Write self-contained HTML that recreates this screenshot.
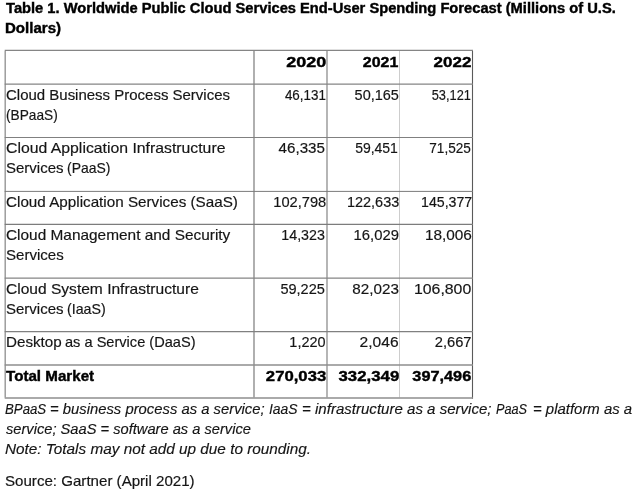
<!DOCTYPE html>
<html lang="en">
<head>
<meta charset="utf-8">
<title>Table 1. Worldwide Public Cloud Services End-User Spending Forecast</title>
<style>
html,body{margin:0;padding:0;background:#fff;}
body{width:640px;height:492px;overflow:hidden;position:relative;font-family:"Liberation Sans",Arial,sans-serif;color:#151515;font-size:15px;}
h1{position:absolute;left:0;top:-2px;margin:0;font-size:14.5px;line-height:20.2px;font-weight:bold;color:#000;white-space:nowrap;-webkit-text-stroke:0.4px #000;}
.grid{position:absolute;left:0;top:0;}
table{display:block;position:absolute;left:0;top:50.4px;width:640px;margin:0;padding:0;border:0;border-spacing:0;}
thead,tbody{display:block;}
tr{display:flex;}
td,th{display:block;box-sizing:border-box;flex:0 0 auto;padding:0px 0 0 0;margin:0;font-weight:inherit;text-align:left;font-size:15px;line-height:20.4px;white-space:nowrap;}
.n{text-align:right;}
.t{display:inline-block;}
tbody td{-webkit-text-stroke:0.18px #151515;}
tr.h th,tr.tot td{font-weight:bold;color:#000;-webkit-text-stroke:0.4px #000;}
.foot{position:absolute;left:0;top:398.5px;margin:0;font-style:italic;font-size:14.25px;line-height:20.2px;white-space:nowrap;-webkit-text-stroke:0.15px #151515;}
.src{position:absolute;left:0;top:470.5px;margin:0;font-size:14.6px;line-height:20px;white-space:nowrap;-webkit-text-stroke:0.18px #151515;}
.bar{position:absolute;left:0;top:486px;width:640px;height:6px;background:#fbfbfb;z-index:-1;}
</style>
</head>
<body>
<div class="bar"></div>
<h1><span class="t" style="margin-left:5.54px;transform-origin:0 0;transform:scaleX(1.0128)">Table 1. Worldwide Public Cloud Services End-User Spending Forecast (Millions of U.S.</span><br><span class="t" style="margin-left:4.69px;transform-origin:0 0;transform:scaleX(1.0384)">Dollars)</span></h1>
<svg class="grid" width="640" height="492" viewBox="0 0 640 492" aria-hidden="true"><line x1="5.2" y1="50.9" x2="5.2" y2="397.40" stroke="#969696" stroke-width="1.4"/><line x1="254.0" y1="50.9" x2="254.0" y2="397.40" stroke="#8e8e8e" stroke-width="1.4"/><line x1="327.0" y1="50.9" x2="327.0" y2="397.40" stroke="#8e8e8e" stroke-width="1.3"/><line x1="399.5" y1="50.9" x2="399.5" y2="397.40" stroke="#cdcdcd" stroke-width="1.0"/><line x1="472.5" y1="50.9" x2="472.5" y2="398.70" stroke="#5a5a5a" stroke-width="1.1"/><line x1="4.7" y1="50.4" x2="473.0" y2="50.4" stroke="#858585" stroke-width="1.1"/><line x1="4.7" y1="84.0" x2="473.0" y2="84.0" stroke="#858585" stroke-width="1.25"/><line x1="4.7" y1="137.5" x2="473.0" y2="137.5" stroke="#808080" stroke-width="1.1"/><line x1="4.7" y1="191.4" x2="473.0" y2="191.4" stroke="#7a7a7a" stroke-width="1.0"/><line x1="4.7" y1="224.35" x2="473.0" y2="224.35" stroke="#7c7c7c" stroke-width="1.05"/><line x1="4.7" y1="278.05" x2="473.0" y2="278.05" stroke="#858585" stroke-width="1.25"/><line x1="4.7" y1="331.6" x2="473.0" y2="331.6" stroke="#808080" stroke-width="1.1"/><line x1="4.7" y1="365.0" x2="473.0" y2="365.0" stroke="#8e8e8e" stroke-width="1.4"/><line x1="4.7" y1="398.0" x2="473.0" y2="398.0" stroke="#8e8e8e" stroke-width="1.4"/></svg>
<table>
<thead>
<tr class="h" style="height:33.60px;padding-top:1.4px;box-sizing:border-box"><th style="width:254.00px"></th><th class="n" style="width:73.00px"><span class="t" style="margin-right:0.76px;transform-origin:100% 0;transform:scaleX(1.2006)">2020</span></th><th class="n" style="width:72.50px"><span class="t" style="margin-right:0.76px;transform-origin:100% 0;transform:scaleX(1.0638)">2021</span></th><th class="n" style="width:73.00px"><span class="t" style="margin-right:0.82px;transform-origin:100% 0;transform:scaleX(1.1318)">2022</span></th></tr>
</thead>
<tbody>
<tr class="two" style="height:53.50px;padding-top:0.8px;box-sizing:border-box"><td style="width:254.00px"><span class="t" style="margin-left:5.54px;transform-origin:0 0;transform:scaleX(0.9988)">Cloud Business Process Services</span><br><span class="t" style="margin-left:6.05px;transform-origin:0 0;transform:scaleX(0.9119)">(BPaaS)</span></td><td class="n" style="width:73.00px"><span class="t" style="margin-right:1.25px;transform-origin:100% 0;transform:scaleX(0.8928)">46,131</span></td><td class="n" style="width:72.50px"><span class="t" style="margin-right:0.69px;transform-origin:100% 0;transform:scaleX(0.9653)">50,165</span></td><td class="n" style="width:73.00px"><span class="t" style="margin-right:1.48px;transform-origin:100% 0;transform:scaleX(0.8531)">53,121</span></td></tr>
<tr class="two" style="height:53.90px;padding-top:0.1px;box-sizing:border-box"><td style="width:254.00px"><span class="t" style="margin-left:5.50px;transform-origin:0 0;transform:scaleX(1.0527)">Cloud Application Infrastructure</span><br><span class="t" style="margin-left:6.22px;transform-origin:0 0;transform:scaleX(1.0001)">Services</span> <span class="t" style="margin-left:-0.67px;transform-origin:0 0;transform:scaleX(0.9303)">(PaaS)</span></td><td class="n" style="width:73.00px"><span class="t" style="margin-right:1.66px;transform-origin:100% 0;transform:scaleX(1.0088)">46,335</span></td><td class="n" style="width:72.50px"><span class="t" style="margin-right:1.62px;transform-origin:100% 0;transform:scaleX(0.9316)">59,451</span></td><td class="n" style="width:73.00px"><span class="t" style="margin-right:1.33px;transform-origin:100% 0;transform:scaleX(0.9060)">71,525</span></td></tr>
<tr class="one" style="height:32.95px;padding-top:0.6px;box-sizing:border-box"><td style="width:254.00px"><span class="t" style="margin-left:5.53px;transform-origin:0 0;transform:scaleX(1.0150)">Cloud Application Services (SaaS)</span></td><td class="n" style="width:73.00px"><span class="t" style="margin-right:1.26px;transform-origin:100% 0;transform:scaleX(0.9766)">102,798</span></td><td class="n" style="width:72.50px"><span class="t" style="margin-right:0.66px;transform-origin:100% 0;transform:scaleX(0.9634)">122,633</span></td><td class="n" style="width:73.00px"><span class="t" style="margin-right:0.59px;transform-origin:100% 0;transform:scaleX(0.9441)">145,377</span></td></tr>
<tr class="two" style="height:53.70px;padding-top:0.3px;box-sizing:border-box"><td style="width:254.00px"><span class="t" style="margin-left:5.52px;transform-origin:0 0;transform:scaleX(1.0268)">Cloud Management and Security</span><br><span class="t" style="margin-left:6.22px;transform-origin:0 0;transform:scaleX(1.0037)">Services</span></td><td class="n" style="width:73.00px"><span class="t" style="margin-right:1.67px;transform-origin:100% 0;transform:scaleX(0.9506)">14,323</span></td><td class="n" style="width:72.50px"><span class="t" style="margin-right:1.00px;transform-origin:100% 0;transform:scaleX(0.9881)">16,029</span></td><td class="n" style="width:73.00px"><span class="t" style="margin-right:1.03px;transform-origin:100% 0;transform:scaleX(1.0232)">18,006</span></td></tr>
<tr class="two" style="height:53.55px;padding-top:0.6px;box-sizing:border-box"><td style="width:254.00px"><span class="t" style="margin-left:5.51px;transform-origin:0 0;transform:scaleX(1.0370)">Cloud System Infrastructure</span><br><span class="t" style="margin-left:6.22px;transform-origin:0 0;transform:scaleX(1.0001)">Services</span> <span class="t" style="margin-left:-0.69px;transform-origin:0 0;transform:scaleX(0.9490)">(IaaS)</span></td><td class="n" style="width:73.00px"><span class="t" style="margin-right:1.89px;transform-origin:100% 0;transform:scaleX(0.9698)">59,225</span></td><td class="n" style="width:72.50px"><span class="t" style="margin-right:0.73px;transform-origin:100% 0;transform:scaleX(1.0142)">82,023</span></td><td class="n" style="width:73.00px"><span class="t" style="margin-right:1.18px;transform-origin:100% 0;transform:scaleX(1.0554)">106,800</span></td></tr>
<tr class="one" style="height:33.40px;padding-top:0.0px;box-sizing:border-box"><td style="width:254.00px"><span class="t" style="margin-left:5.95px;transform-origin:0 0;transform:scaleX(1.0119)">Desktop</span> <span class="t" style="margin-left:0.33px;transform-origin:0 0;transform:scaleX(0.9725)">as a Service (DaaS)</span></td><td class="n" style="width:73.00px"><span class="t" style="margin-right:1.94px;transform-origin:100% 0;transform:scaleX(0.9635)">1,220</span></td><td class="n" style="width:72.50px"><span class="t" style="margin-right:0.72px;transform-origin:100% 0;transform:scaleX(1.0381)">2,046</span></td><td class="n" style="width:73.00px"><span class="t" style="margin-right:1.06px;transform-origin:100% 0;transform:scaleX(0.9798)">2,667</span></td></tr>
<tr class="tot" style="height:33.00px;padding-top:0.9px;box-sizing:border-box"><td style="width:254.00px"><span class="t" style="margin-left:5.93px;transform-origin:0 0;transform:scaleX(1.0102)">Total Market</span></td><td class="n" style="width:73.00px"><span class="t" style="margin-right:1.10px;transform-origin:100% 0;transform:scaleX(1.1136)">270,033</span></td><td class="n" style="width:72.50px"><span class="t" style="margin-right:0.78px;transform-origin:100% 0;transform:scaleX(1.1196)">332,349</span></td><td class="n" style="width:73.00px"><span class="t" style="margin-right:1.21px;transform-origin:100% 0;transform:scaleX(1.0856)">397,496</span></td></tr>
</tbody>
</table>
<p class="foot"><span class="t" style="margin-left:5.29px;transform-origin:0 0;transform:scaleX(0.9275)">BPaaS</span> <span class="t" style="margin-left:-3.16px;transform-origin:0 0;transform:scaleX(1.0403)">= business process as a service;</span> <span class="t" style="margin-left:8.41px;transform-origin:0 0;transform:scaleX(0.9756)">IaaS</span> <span class="t" style="margin-left:-0.38px;transform-origin:0 0;transform:scaleX(1.0567)">= infrastructure as a service;</span> <span class="t" style="margin-left:11.02px;transform-origin:0 0;transform:scaleX(0.8900)">PaaS</span> <span class="t" style="margin-left:-2.38px;transform-origin:0 0;transform:scaleX(1.0476)">= platform as a</span><br><span class="t" style="margin-left:5.66px;transform-origin:0 0;transform:scaleX(1.0289)">service; SaaS = software as a service</span><br><span class="t" style="margin-left:5.23px;transform-origin:0 0;transform:scaleX(1.0751)">Note: Totals may not add up due to rounding.</span></p>
<p class="src"><span class="t" style="margin-left:4.81px;transform-origin:0 0;transform:scaleX(1.0345)">Source: Gartner (April 2021)</span></p>
</body>
</html>
